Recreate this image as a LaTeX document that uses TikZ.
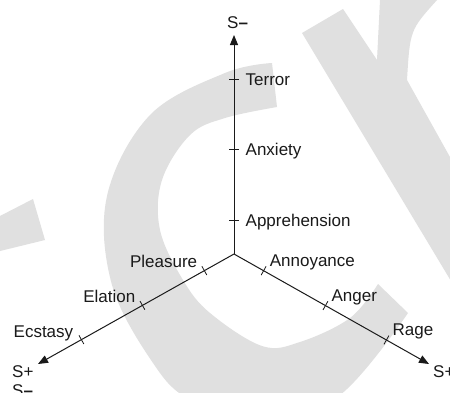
\documentclass[tikz,border=0pt]{standalone}
\usepackage{fontspec}
\setmainfont{Liberation Sans}
\usetikzlibrary{arrows.meta,calc}
\definecolor{wmgray}{HTML}{E0E0E0}
\definecolor{ink}{HTML}{1A1A1A}
\newcommand{\heavydash}{\textbf{–}}
\begin{document}
\begin{tikzpicture}[x=1pt,y=-1pt,
  axis/.style={line width=1pt, draw=ink, -{Triangle[length=10pt,width=8pt]}},
  tickmark/.style={line width=0.8pt, draw=ink},
  lbl/.style={inner sep=0pt, font=\fontsize{17}{19}\selectfont, text=ink},
  wm/.style={fill=wmgray, draw=none}]
\useasboundingbox (0,0) rectangle (450,392);
\clip (0,0) rectangle (450,392);
\fill[white] (0,0) rectangle (450,392);

% faint background lettering
\fill[wm] (0,216) -- (33,199) -- (45,240) -- (0,251) -- cycle;
\fill[wm] plot[smooth, tension=0.6] coordinates {(272,63) (225,73) (150,115) (107,196) (112,285) (153,363) (190,400) (260,425) (340,395) (408,313)}
  -- plot[smooth, tension=0.6] coordinates {(378,284) (350,318) (300,342) (262,346) (210,313) (183,280) (160,230) (162,180) (190,135) (225,118) (277,107)}
  -- cycle;
\fill[wm] (302,33) -- (343,9) -- (377,60) .. controls (378,30) .. (380,0) -- (437,0)
  .. controls (410,30) .. (407,80) -- (460,175) -- (460,296) -- cycle;

% axes
\coordinate (O) at (234,254);
\coordinate (U) at (234,35);
\coordinate (L) at (38,364);
\coordinate (R) at (429,364);
\draw[axis] (O) -- (U);
\draw[axis] (O) -- (L);
\draw[axis] (O) -- (R);

% tick positions along each axis
\foreach \d/\n in {34/1,105/2,175/3} {
  \coordinate (u\n) at ($(O)!\d pt!(U)$);
  \coordinate (l\n) at ($(O)!\d pt!(L)$);
  \coordinate (r\n) at ($(O)!\d pt!(R)$);
  \draw[tickmark] ($(u\n)!5pt!90:(O)$) -- ($(u\n)!5pt!-90:(O)$);
  \draw[tickmark] ($(l\n)!5pt!90:(O)$) -- ($(l\n)!5pt!-90:(O)$);
  \draw[tickmark] ($(r\n)!5pt!90:(O)$) -- ($(r\n)!5pt!-90:(O)$);
}

% labels on the vertical axis
\node[lbl, anchor=base west] (appr) at ($(u1)+(11.5,6)$) {Apprehension};
\node[lbl, anchor=base west] (anx)  at ($(u2)+(11.5,6)$) {Anxiety};
\node[lbl, anchor=base west] (terr) at ($(u3)+(11.5,6)$) {Terror};

% labels on the right axis
\node[lbl, anchor=base west] (anno) at ($(r1)+(6,-4)$) {Annoyance};
\node[lbl, anchor=base west] (ang)  at ($(r2)+(6,-4)$) {Anger};
\node[lbl, anchor=base west] (rage) at ($(r3)+(6,-4)$) {Rage};

% labels on the left axis
\node[lbl, anchor=base east] (plea) at ($(l1)+(-7,-3)$) {Pleasure};
\node[lbl, anchor=base east] (elat) at ($(l2)+(-7,-3)$) {Elation};
\node[lbl, anchor=base east] (ecst) at ($(l3)+(-8,-2)$) {Ecstasy};

% axis end labels
\node[lbl, anchor=base west] (topend)   at (227,28)  {S\heavydash};
\node[lbl, anchor=base west] (leftend)  at (12,377)  {S+};
\node[lbl, anchor=base west] (leftend2) at (12,396)  {S\heavydash};
\node[lbl, anchor=base west] (rightend) at (433,377) {S+};
\end{tikzpicture}
\end{document}
